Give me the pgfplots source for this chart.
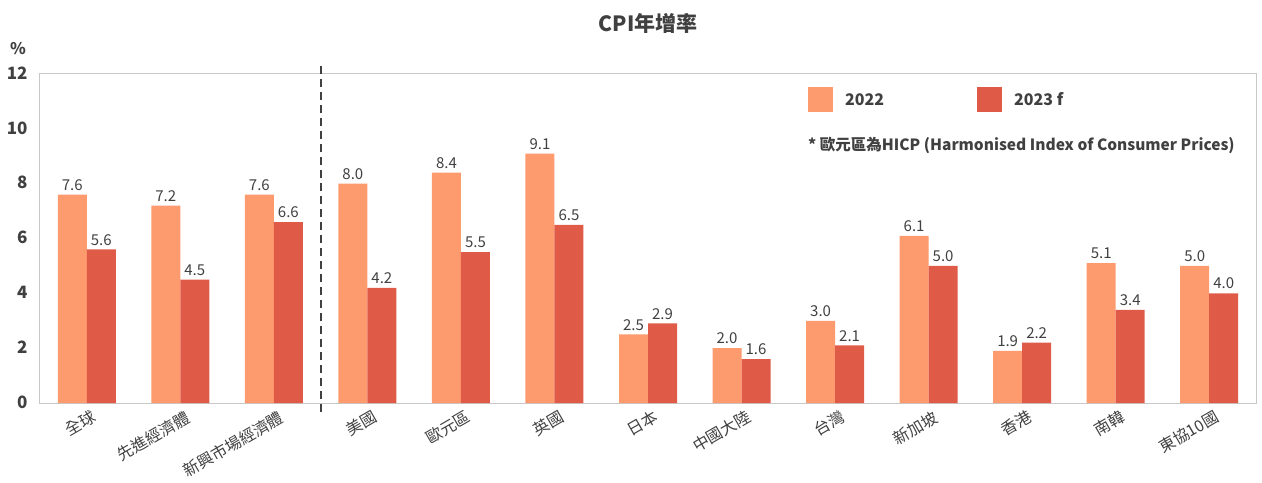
\documentclass[border=0pt]{standalone}
\usepackage{pgfplots}
\pgfplotsset{compat=1.18}
\usepackage{fontspec}
\setmainfont{Noto Sans CJK TC}
\definecolor{cA}{HTML}{FD9A6E}
\definecolor{cB}{HTML}{E05A48}
\definecolor{txt}{HTML}{404040}
\definecolor{frm}{HTML}{C8C8C8}
\begin{document}
\begin{tikzpicture}
\begin{axis}[
  name=ax,
  width=1216pt, height=329pt, scale only axis,
  xmin=-0.5, xmax=12.5, ymin=0, ymax=12,
  ytick={0,2,...,12},
  xtick={0,...,12},
  xticklabels={全球,先進經濟體,新興市場經濟體,美國,歐元區,英國,日本,中國大陸,台灣,新加坡,香港,南韓,東協10國},
  x tick label style={rotate=30, anchor=north east, font=\fontsize{16}{18}\selectfont, text=txt, xshift=4pt, yshift=-4pt},
  y tick label style={font=\fontsize{17}{19}\selectfont\bfseries, text=txt, xshift=-9pt, yshift=1pt},
  /pgf/number format/assume math mode=true,
  major tick length=0pt,
  axis line style={draw=frm, line width=1pt},
  clip=false,
  ybar=0pt, bar width=29pt,
  nodes near coords={\pgfmathprintnumber[fixed,fixed zerofill,precision=1]{\pgfplotspointmeta}},
  every node near coord/.append style={font=\fontsize{15}{17}\selectfont, text=txt, inner sep=2pt, yshift=2pt},
  legend columns=2,
  legend style={at={(0.6316,0.962)}, anchor=north west, draw=none, fill=none, inner sep=0pt,
    font=\fontsize{16}{18}\selectfont\bfseries, text=txt,
    nodes={inner sep=0pt, text depth=0pt},
    /tikz/every odd column/.append style={column sep=12pt},
    /tikz/every even column/.append style={column sep=93pt}},
]
\addplot[fill=cA, draw=none, legend image code/.code={\fill[cA] (0pt,-12.5pt) rectangle (25pt,12.5pt);}] coordinates {(0,7.6) (1,7.2) (2,7.6) (3,8.0) (4,8.4) (5,9.1) (6,2.5) (7,2.0) (8,3.0) (9,6.1) (10,1.9) (11,5.1) (12,5.0)};
\addlegendentry{2022}
\addplot[fill=cB, draw=none, legend image code/.code={\fill[cB] (0pt,-12.5pt) rectangle (25pt,12.5pt);}] coordinates {(0,5.6) (1,4.5) (2,6.6) (3,4.2) (4,5.5) (5,6.5) (6,2.9) (7,1.6) (8,2.1) (9,5.0) (10,2.2) (11,3.4) (12,4.0)};
\addlegendentry{2023 f}
\draw[txt, line width=2.2pt, dash pattern=on 8pt off 5pt] (axis cs:2.5,-0.33) -- (axis cs:2.5,12.44);
\node[anchor=west, inner sep=0pt, font=\fontsize{15.5}{17}\selectfont\bfseries, text=txt] at (rel axis cs:0.6316,0.784) {* 歐元區為HICP (Harmonised Index of Consumer Prices)};
\end{axis}
\node[font=\fontsize{21}{23}\selectfont\bfseries, text=txt] at ([yshift=51pt]ax.north) {CPI年增率};
\node[font=\fontsize{16}{18}\selectfont\bfseries, text=txt] at ([shift={(-22pt,25pt)}]ax.north west) {\%};
\pgfresetboundingbox
\path[use as bounding box] ([shift={(-40pt,-79pt)}]ax.south west) rectangle ([shift={(6pt,74pt)}]ax.north east);
\end{tikzpicture}
\end{document}
